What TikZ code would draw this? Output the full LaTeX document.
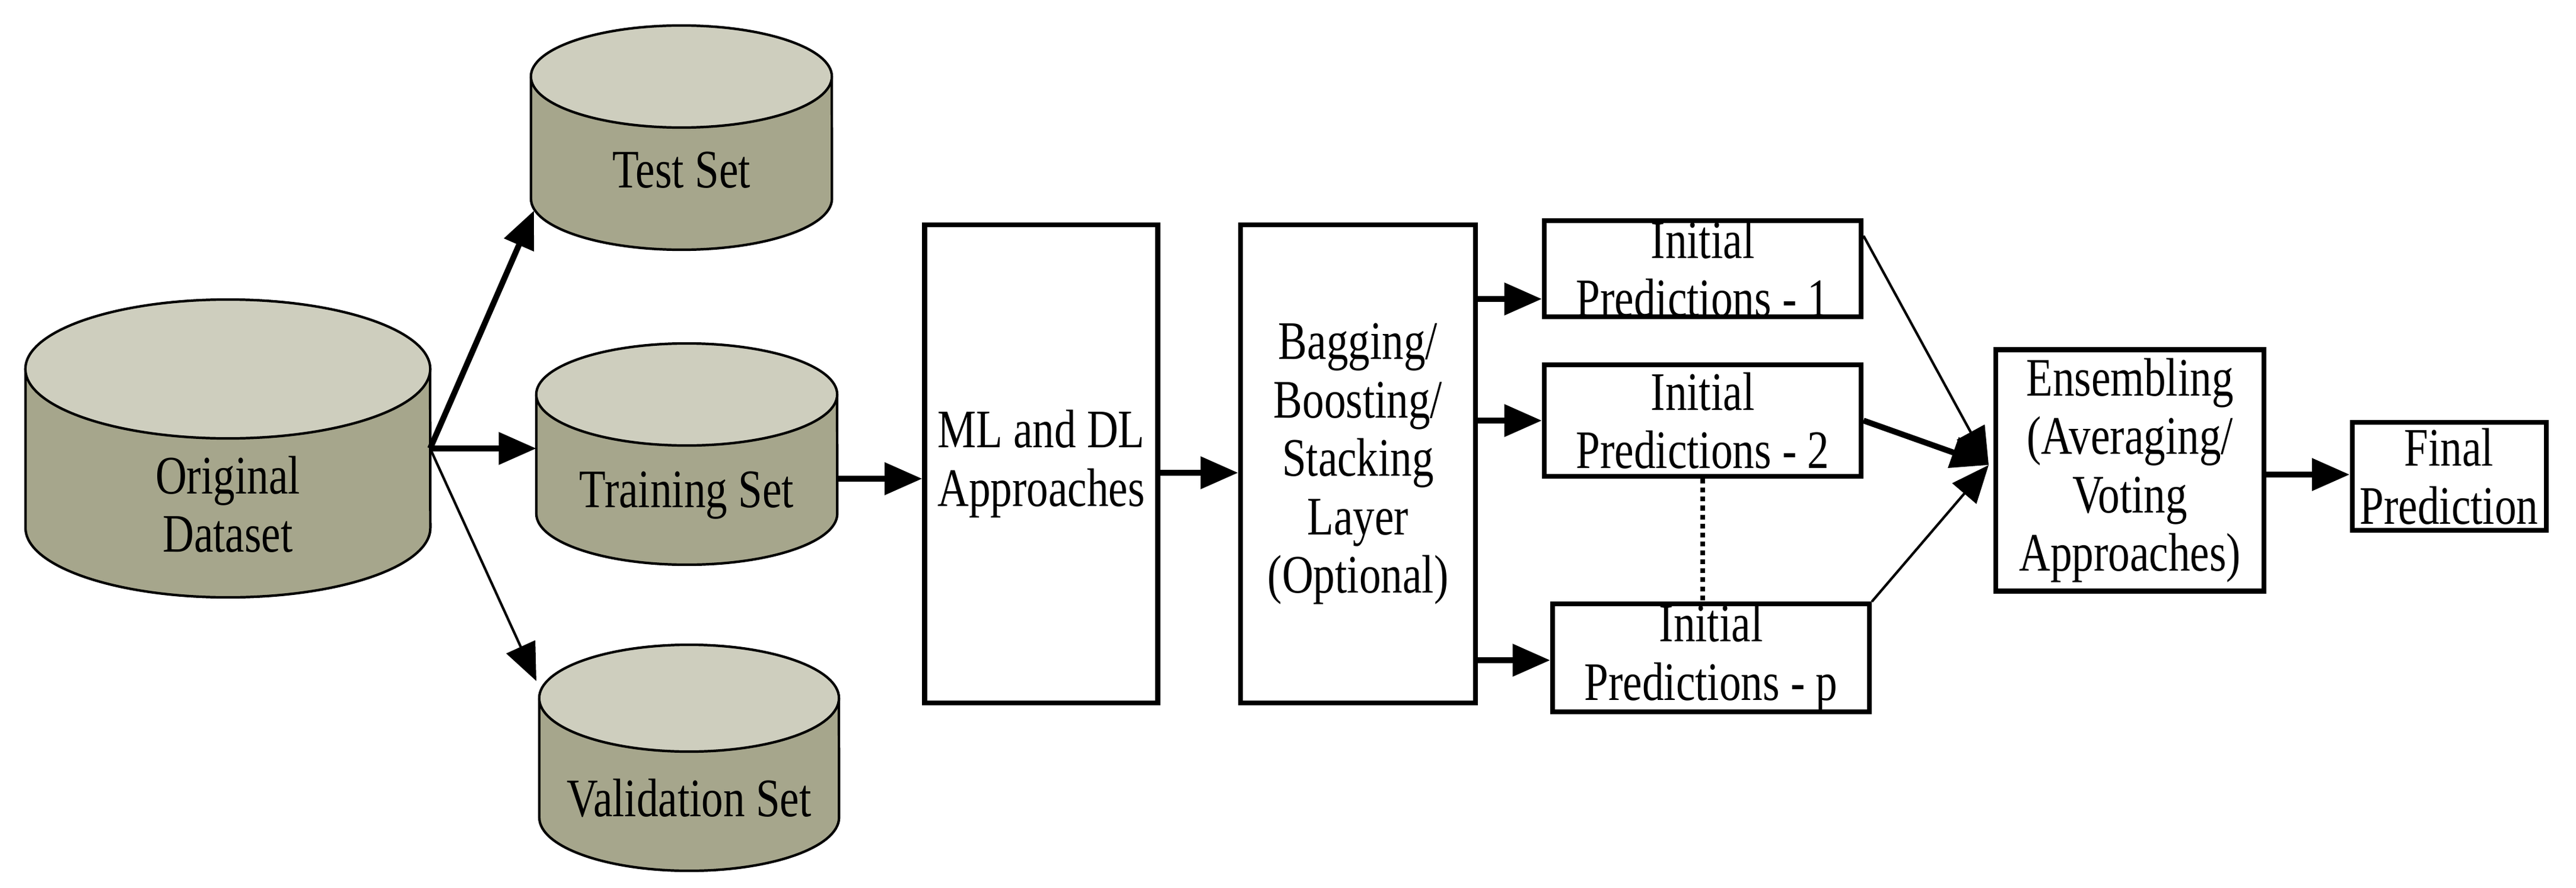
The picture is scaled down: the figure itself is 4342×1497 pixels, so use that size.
\documentclass[tikz,border=0pt]{standalone}
\usepackage{fontspec}
\setmainfont{Liberation Serif}[FakeStretch=0.8]
\usetikzlibrary{arrows.meta}
\definecolor{cylbody}{RGB}{166,166,140}
\definecolor{cyltop}{RGB}{206,206,190}
\newcommand{\mycyl}[8]{% name, x1, x2, yc, yb, ry, text, texty
  \pgfmathsetmacro{\rx}{(#3-#2)/200}
  \pgfmathsetmacro{\ryy}{#6/100}
  \fill[cylbody] (#2,-#4) rectangle (#3,-#5);
  \fill[cylbody] ({(#2+#3)/2},-#5) ellipse[x radius=\rx cm, y radius=\ryy cm];
  \draw[line width=1.2pt] (#2,-#4) -- (#2,-#5) arc[start angle=180,end angle=360,x radius=\rx cm,y radius=\ryy cm] -- (#3,-#4);
  \draw[line width=1.2pt,fill=cyltop] ({(#2+#3)/2},-#4) ellipse[x radius=\rx cm, y radius=\ryy cm];
  \node[inner sep=0, minimum width={(#3-#2)*0.01cm}, minimum height={(#5-#4+2*#6)*0.01cm}] (#1) at ({(#2+#3)/2},{-(#4+#5)/2}) {};
  \node[align=center,font=\lbl] at ({(#2+#3)/2},-#8) {#7};
}
\newcommand{\lbl}{\fontsize{26}{28}\selectfont}
\begin{document}
\begin{tikzpicture}[x=0.01cm,y=0.01cm,
  box/.style={draw,line width=2.3pt,fill=white,inner sep=0,align=center,font=\lbl},
  thk/.style={line width=2.8pt,-{Triangle[length=18pt,width=15pt]}},
  thn/.style={line width=1.2pt,-{Triangle[length=18pt,width=15pt]}}]
\useasboundingbox (0,0) rectangle (4342,-1497);
\mycyl{orig}{43}{725}{622}{890}{117}{Original\\Dataset}{850}
\mycyl{test}{895}{1402}{129}{335}{86}{Test Set}{287}
\mycyl{train}{904}{1411}{665}{866}{86}{Training Set}{835}
\mycyl{valid}{909}{1414}{1177}{1378}{90}{Validation Set}{1345}
\coordinate (src) at (725,-756);
\draw[thk] (src) -- (900,-355);
\draw[thk] (src) -- (904,-756);
\draw[thn] (src) -- (904,-1148);
\node[box,minimum width=393*0.01cm,minimum height=806*0.01cm] (ml) at (1755,-782) {ML and DL\\Approaches};
\node[box,minimum width=396*0.01cm,minimum height=806*0.01cm] (bag) at (2289,-782) {Bagging/\\Boosting/\\Stacking\\Layer\\(Optional)};
\node[box,minimum width=534*0.01cm,minimum height=158*0.01cm] (i1) at (2870,-453) {Initial\\Predictions - 1};
\node[box,minimum width=534*0.01cm,minimum height=188*0.01cm] (i2) at (2870,-709) {Initial\\Predictions - 2};
\node[box,minimum width=534*0.01cm,minimum height=180*0.01cm] (ip) at (2884,-1109) {Initial\\Predictions - p};
\node[box,minimum width=452*0.01cm,minimum height=407*0.01cm] (ens) at (3590,-793) {Ensembling\\(Averaging/\\Voting\\Approaches)};
\node[box,minimum width=327*0.01cm,minimum height=182*0.01cm] (fin) at (4128,-803) {Final\\Prediction};
\draw[thk] (train.east |- 0,-807) -- (ml.west |- 0,-807);
\draw[thk] (ml.east |- 0,-797) -- (bag.west |- 0,-797);
\draw[thk] (bag.east |- 0,-504) -- (i1.west |- 0,-504);
\draw[thk] (bag.east |- 0,-709) -- (i2.west |- 0,-709);
\draw[thk] (bag.east |- 0,-1113) -- (ip.west |- 0,-1113);
\coordinate (conv) at (3352,-784);
\draw[thn] (i1.north east) ++(0,-30) -- (conv);
\draw[thk] (i2.east) -- (conv);
\draw[thn] (ip.north east) -- (conv);
\draw[line width=2.3pt,dotted] (i2.south) -- (i2.south |- ip.north);
\draw[thk] (ens.east |- 0,-800) -- (fin.west |- 0,-800);
\end{tikzpicture}
\end{document}
